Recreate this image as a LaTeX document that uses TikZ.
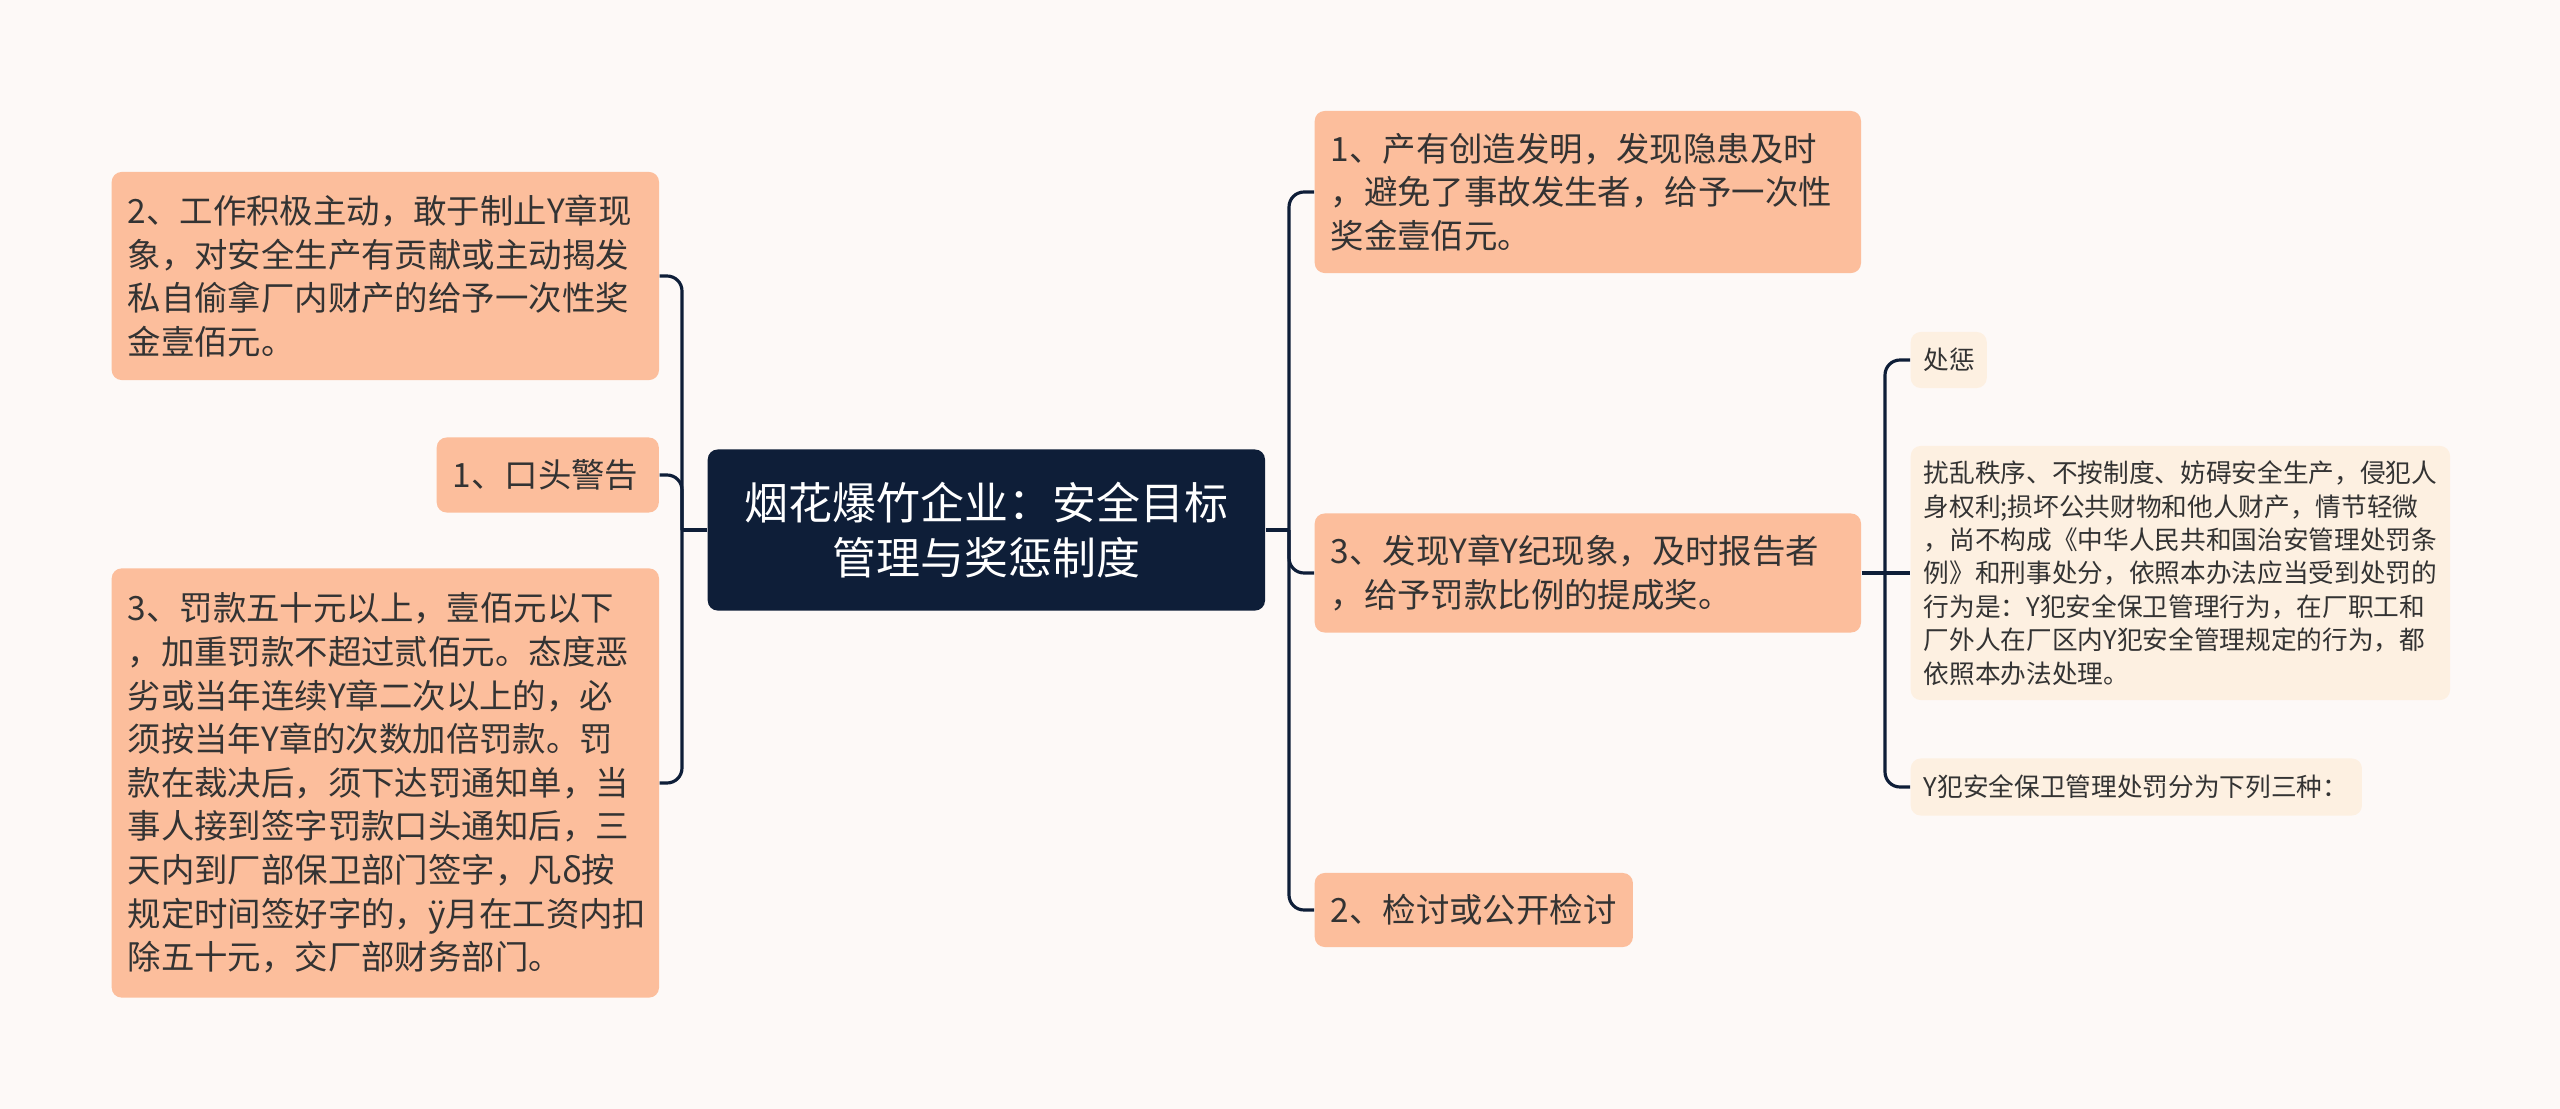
\documentclass[tikz,border=0pt]{standalone}
\usepackage{fontspec}
\setmainfont{Noto Sans CJK SC}
\usepackage{tikz}
\usetikzlibrary{calc}

\definecolor{navy}{HTML}{0E1E38}
\definecolor{peach}{HTML}{FCBE9C}
\definecolor{cream}{HTML}{FDF0E1}
\definecolor{ink}{HTML}{333333}
\definecolor{bgc}{HTML}{FDF9F7}

\begin{document}
\begin{tikzpicture}[x=0.01cm, y=-0.01cm,
    root/.style={fill=navy, text=white, rounded corners=0.1cm, anchor=west, align=center,
      inner xsep=0.36cm, text width=4.85cm, minimum height=1.61cm,
      font=\fontsize{12.5pt}{15.8pt}\selectfont},
    topic/.style={fill=peach, text=ink, rounded corners=0.1cm, anchor=west, align=left,
      inner xsep=0.16cm, font=\fontsize{9.5pt}{12.4pt}\selectfont},
    leaf/.style={fill=cream, text=ink, rounded corners=0.1cm, anchor=west, align=left,
      inner xsep=0.13cm, font=\fontsize{7.3pt}{9.5pt}\selectfont},
    link/.style={draw=navy, line width=0.9pt, rounded corners=0.15cm}]

    %% Background
    \fill[bgc] (0,0) rectangle (2560,1109);
    \useasboundingbox (0,0) rectangle (2560,1109);

  % Chủ đề chính
  \node[root] (root) at (707,530) {烟花爆竹企业：安全目标\\管理与奖惩制度};

  % Nhánh trái
  \node[topic, text width=5.15cm, minimum height=2.08cm] (l2) at (111,276)
    {2、工作积极主动，敢于制止Y章现\\象，对安全生产有贡献或主动揭发\\私自偷拿厂内财产的给予一次性奖\\金壹佰元。};
  \node[topic, text width=1.9cm, minimum height=0.75cm] (l1) at (436,475) {1、口头警告};
  \node[topic, text width=5.15cm, minimum height=4.29cm] (l3) at (111,783)
    {3、罚款五十元以上，壹佰元以下\\，加重罚款不超过贰佰元。态度恶\\劣或当年连续Y章二次以上的，必\\须按当年Y章的次数加倍罚款。罚\\款在裁决后，须下达罚通知单，当\\事人接到签字罚款口头通知后，三\\天内到厂部保卫部门签字，凡δ按\\规定时间签好字的，ÿ月在工资内扣\\除五十元，交厂部财务部门。};

  % Nhánh phải
  \node[topic, text width=5.14cm, minimum height=1.62cm] (r1) at (1314,192)
    {1、产有创造发明，发现隐患及时\\，避免了事故发生者，给予一次性\\奖金壹佰元。};
  \node[topic, text width=5.14cm, minimum height=1.19cm] (r3) at (1314,573)
    {3、发现Y章Y纪现象，及时报告者\\，给予罚款比例的提成奖。};
  \node[topic, text width=2.86cm, minimum height=0.74cm] (r2) at (1314,910) {2、检讨或公开检讨};

  % Nhánh con
  \node[leaf, text width=0.5cm, minimum height=0.56cm] (s1) at (1910,360) {处惩};
  \node[leaf, text width=5.13cm, minimum height=2.54cm] (s2) at (1910,573)
    {扰乱秩序、不按制度、妨碍安全生产，侵犯人\\身权利;损坏公共财物和他人财产，情节轻微\\，尚不构成《中华人民共和国治安管理处罚条\\例》和刑事处分，依照本办法应当受到处罚的\\行为是：Y犯安全保卫管理行为，在厂职工和\\厂外人在厂区内Y犯安全管理规定的行为，都\\依照本办法处理。};
  \node[leaf, text width=4.25cm, minimum height=0.57cm] (s3) at (1910,787) {Y犯安全保卫管理处罚分为下列三种：};

  % Đường nối
  \coordinate (lsp) at (682,530);
  \coordinate (rsp) at (1289,530);
  \coordinate (ssp) at (1885,573);

  \draw[link] (root.west) -- (lsp);
  \draw[link] (lsp) |- (l2.east);
  \draw[link] (lsp) |- (l1.east);
  \draw[link] (lsp) |- (l3.east);

  \draw[link] (root.east) -- (rsp);
  \draw[link] (rsp) |- (r1.west);
  \draw[link] (rsp) |- (r3.west);
  \draw[link] (rsp) |- (r2.west);

  \draw[link] (r3.east) -- (s2.west);
  \draw[link] (ssp) |- (s1.west);
  \draw[link] (ssp) |- (s3.west);

\end{tikzpicture}
\end{document}
